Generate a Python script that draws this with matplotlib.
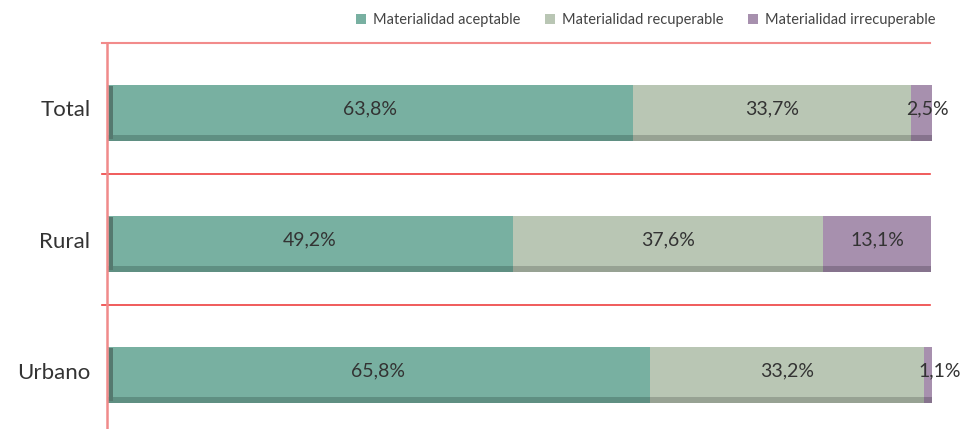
import matplotlib
matplotlib.use("Agg")
import matplotlib.pyplot as plt
from matplotlib.patches import Patch

plt.rcParams['font.family'] = ['Lato', 'DejaVu Sans']

categorias = ['Total', 'Rural', 'Urbano']
series = ['Materialidad aceptable', 'Materialidad recuperable', 'Materialidad irrecuperable']
aceptable = [63.8, 49.2, 65.8]
recuperable = [33.7, 37.6, 33.2]
irrecuperable = [2.5, 13.1, 1.1]
etiquetas = [['63,8%', '49,2%', '65,8%'],
             ['33,7%', '37,6%', '33,2%'],
             ['2,5%', '13,1%', '1,1%']]

colores = ['#78b0a1', '#b9c6b4', '#a790ae']
sombras = ['#5f8f82', '#97a293', '#86738d']

fig = plt.figure(figsize=(9.6, 4.29), dpi=100)
# ejes en pixeles: x 107..932, y 43..429
ax = fig.add_axes([107 / 960, 0, 825 / 960, 386 / 429])

valores = [aceptable, recuperable, irrecuperable]
ys = list(range(len(categorias)))
izq = [0.0] * len(categorias)
for k, vals in enumerate(valores):
    # cara frontal
    ax.barh([y + 0.01 for y in ys], vals, left=izq, height=0.38,
            color=colores[k], edgecolor='none', zorder=3)
    # sombra inferior (efecto 3D)
    ax.barh([y + 0.2225 for y in ys], vals, left=izq, height=0.045,
            color=sombras[k], edgecolor='none', zorder=3)
    for i, v in enumerate(vals):
        if v < 5:
            ax.text(izq[i] - 0.6, ys[i], etiquetas[k][i], ha='left', va='center',
                    fontsize=14, color='#333333', zorder=5)
        else:
            ax.text(izq[i] + v / 2, ys[i], etiquetas[k][i], ha='center',
                    va='center', fontsize=14, color='#333333', zorder=5)
    izq = [a + b for a, b in zip(izq, vals)]

# borde izquierdo oscuro
ax.barh([y + 0.03 for y in ys], [0.5] * len(ys), height=0.4, left=0.2,
        color='#55796f', zorder=4)

ax.set_xlim(0, 100)
ax.set_ylim(-0.5 + 386 / 131, -0.5)

# lineas de cuadricula
ax.axhline(-0.5, xmin=-0.006, xmax=0.998, color='#f28b8b', lw=1.5, clip_on=False, zorder=1)
for yg in [0.5, 1.5]:
    ax.axhline(yg, xmin=-0.006, xmax=0.998, color='#ee4040', lw=1.2, clip_on=False, zorder=1)
ax.axvline(0, color='#f08a8a', lw=1.8, clip_on=False, zorder=6)

for s in ax.spines.values():
    s.set_visible(False)
ax.set_xticks([])
ax.set_yticks(ys)
ax.set_yticklabels(categorias, fontsize=16, color='#333333')
ax.tick_params(axis='y', length=0, pad=12)

handles = [Patch(facecolor=c, edgecolor='none') for c in colores]
fig.legend(handles, series, loc='upper right', bbox_to_anchor=(0.988, 1.0), ncol=3,
           frameon=False, fontsize=10.5, handlelength=0.65, handleheight=0.65,
           handletextpad=0.5, columnspacing=1.7, labelcolor='#444444')

fig.savefig('out.png', dpi=100)
